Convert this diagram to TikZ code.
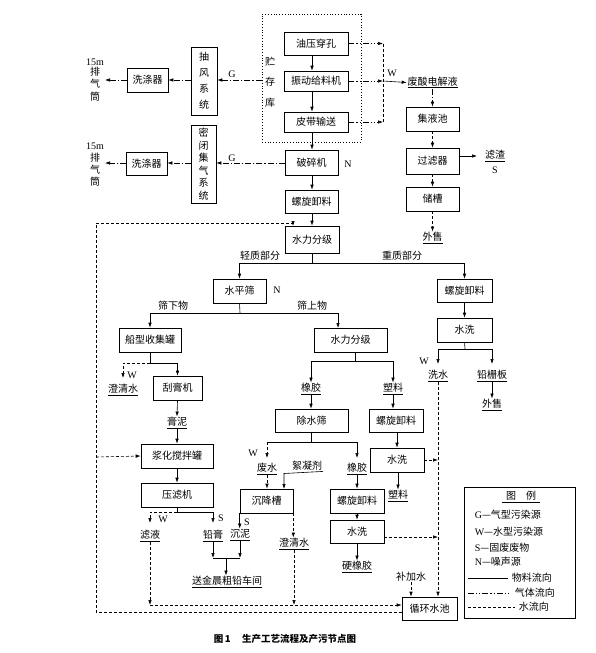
\documentclass[tikz,border=0pt]{standalone}
\usepackage{fontspec}
\setmainfont{Noto Sans CJK SC}
\newfontfamily\lat{Liberation Serif}
\usetikzlibrary{arrows.meta}
\newcommand\udl[1]{\underline{#1}}
\newcommand\bx[6]{\node[box,minimum width={(#4)-(#2)},minimum height={(#5)-(#3)}] (#1) at ({((#2)+(#4))/2},{((#3)+(#5))/2}) {#6};}
\begin{document}
\begin{tikzpicture}[x=1pt,y=-1pt, font=\fontsize{10}{12}\selectfont, line width=0.6pt,
 box/.style={draw, inner sep=0pt, align=center},
 arr/.style={-{Latex[length=5pt,width=3.5pt]}},
 gas/.style={dash pattern=on 6pt off 2pt on 1.2pt off 2pt},
 gasb/.style={dash pattern=on 6pt off 2pt on 1.2pt off 2pt on 1.2pt off 2pt},
 water/.style={dash pattern=on 3pt off 2pt},
 txt/.style={inner sep=0.5pt},
 lbl/.style={inner sep=0pt, font=\lat\fontsize{10}{12}\selectfont}]
\useasboundingbox (0,0) rectangle (596,653);
\coordinate (cx) at (312,0);
\coordinate (wx) at (383,0);
% ---- storage block
\node[draw,dotted,line width=0.8pt,minimum width=99,minimum height=128,inner sep=0] (kuf) at (311.5,78) {};
\node[font=\fontsize{10}{20.5}\selectfont, align=center, inner sep=0] (ku) at (270,82) {贮\\存\\库};
\bx{yy}{284}{32}{348}{55}{油压穿孔}
\bx{zd}{284}{71}{348}{91}{振动给料机}
\bx{pd}{284}{112}{348}{132}{皮带输送}
\bx{pc}{285}{150}{338}{175}{破碎机}
\bx{lx1}{285}{190}{338}{213}{螺旋卸料}
\bx{sl1}{285}{226}{339}{253}{水力分级}
\draw[arr] (yy.south -| cx) -- (zd.north -| cx);
\draw[arr] (zd.south -| cx) -- (pd.north -| cx);
\draw[arr] (pd.south -| cx) -- (pc.north -| cx);
\draw[arr] (pc.south -| cx) -- (lx1.north -| cx);
\draw[arr] (lx1.south -| cx) -- (sl1.north -| cx);
\node[lbl] (n1) at (348,164) {N};
% ---- gas side
\node[box,minimum width=26,minimum height=68,font=\fontsize{10}{16}\selectfont] (cf) at (204,81) {抽\\风\\系\\统};
\node[box,minimum width=25,minimum height=78,font=\fontsize{10}{12.5}\selectfont] (mb) at (203.5,164) {密\\闭\\集\\气\\系\\统};
\bx{xd1}{127}{68}{168}{92}{洗涤器}
\bx{xd2}{126}{152}{167}{175}{洗涤器}
\node[lbl] (m1) at (95,62) {15m};
\node[txt] (p1) at (95,72) {排};
\node[txt] (q1) at (95,84) {气};
\node[txt] (t1) at (95,97) {筒};
\node[lbl] (m2) at (95,146) {15m};
\node[txt] (p2) at (95,158) {排};
\node[txt] (q2) at (95,170) {气};
\node[txt] (t2) at (95,182) {筒};
\coordinate (e1) at (105,80);
\coordinate (e2) at (105,163);
\node[lbl] (g1) at (232,74) {G};
\node[lbl] (g2) at (232,158) {G};
\draw[gas,arr] (kuf.west |- 0,80) -- (cf.east |- 0,80);
\draw[gas,arr] (cf.west |- 0,80) -- (xd1.east);
\draw[gas,arr] (xd1.west) -- (e1);
\draw[gas,arr] (pc.west |- 0,163) -- (mb.east |- 0,163);
\draw[gas,arr] (mb.west |- 0,163) -- (xd2.east |- 0,163);
\draw[gas,arr] (xd2.west |- 0,163) -- (e2);
% ---- waste acid
\node[lbl] (w1) at (392,73) {W};
\node[txt] (fsd) at (432.5,82.5) {\udl{废酸电解液}};
\bx{jyc}{406}{107}{459}{131}{集液池}
\bx{glq}{406}{148}{459}{174}{过滤器}
\bx{cc}{406}{187}{459}{211}{储槽}
\node[txt] (ws1) at (432.5,238) {\udl{外售}};
\node[txt] (lz) at (495,156) {\udl{滤渣}};
\node[lbl] (s0) at (495,170) {S};
\draw[gasb,arr] (yy.east) -- (yy.east -| wx);
\draw[gasb,arr] (zd.east) -- (zd.east -| wx);
\draw[gasb,arr] (pd.east) -- (pd.east -| wx);
\draw[water] (yy.east -| wx) -- (pd.east -| wx);
\draw[arr] (zd.east -| wx) -- (fsd.west);
\draw[gas,arr] (fsd.south -| jyc.north) -- (jyc.north);
\draw[water,arr] (jyc.south) -- (glq.north);
\draw[water,arr] (glq.south) -- (cc.north);
\draw[water,arr] (cc.south) -- (ws1.north);
\draw[arr] (glq.east |- 0,156) -- (477,156);
% ---- hydraulic split
\node[txt] (qz) at (260,256) {轻质部分};
\node[txt] (zz) at (402,256) {重质部分};
\coordinate (j1) at (312,263);
\bx{spj}{213}{279}{266}{303}{水平筛}
\node[lbl] (n2) at (277,290) {N};
\bx{lx4}{437}{279}{492}{302}{螺旋卸料}
\draw (sl1.south -| cx) -- (j1);
\draw[arr] (j1) -| (spj.north);
\draw[arr] (j1) -| (lx4.north);
\node[txt] (sxw) at (173,306) {筛下物};
\node[txt] (ssw) at (312,306) {筛上物};
\bx{cx1}{119}{328}{181}{352}{船型收集罐}
\bx{sl2}{314}{328}{387}{352}{水力分级}
\coordinate (j2) at (240,313);
\draw (spj.south) -- (j2);
\draw[arr] (j2) -| (cx1.north);
\draw[arr] (j2) -| (338,328);
% ---- left branch
\bx{ggj}{153}{376}{202}{400}{刮膏机}
\node[lbl] (w3) at (132,375) {W};
\node[txt] (cqs1) at (123,390) {\udl{澄清水}};
\coordinate (j3) at (150,363);
\draw (cx1.south) -- (j3);
\draw[water,arr] (j3) -| (123,378);
\draw[arr] (j3) -| (ggj.north);
\node[txt] (gn) at (177,423) {\udl{膏泥}};
\bx{jh}{141}{444}{213}{468}{浆化搅拌罐}
\bx{ylj}{141}{483}{213}{507}{压滤机}
\draw[arr] (ggj.south) -- (gn.north);
\draw[arr] (gn.south) -- (jh.north);
\draw[arr] (jh.south) -- (ylj.north);
\coordinate (j4) at (177,512);
\draw (ylj.south) -- (j4);
\draw[water,arr] (j4) -| (150,523);
\draw[arr] (j4) -| (213,523);
\node[lbl] (w6) at (163,519) {W};
\node[lbl] (s1) at (221,518) {S};
\node[txt] (ly) at (150,536) {\udl{滤液}};
\node[txt] (qg) at (213,536) {\udl{铅膏}};
% ---- middle branch
\node[txt] (xj1) at (311,389) {\udl{橡胶}};
\node[txt] (sl) at (393,389) {\udl{塑料}};
\coordinate (j5) at (355,361);
\draw (sl2.south -| j5) -- (j5);
\draw[arr] (j5) -| (xj1.north);
\draw[arr] (j5) -| (sl.north);
\bx{csz}{275}{409}{348}{432}{除水筛}
\bx{lx2}{369}{409}{423}{432}{螺旋卸料}
\draw[arr] (xj1.south) -- (csz.north -| xj1);
\draw[arr] (sl.south) -- (lx2.north -| sl);
\coordinate (j6) at (311.5,442);
\draw (csz.south) -- (j6);
\draw (j6) -- (267,442);
\draw[water,arr] (267,442) -- (267,458);
\draw[arr] (j6) -| (357,458);
\node[lbl] (w4) at (253,453) {W};
\node[txt] (fs) at (267,469) {\udl{废水}};
\node[txt] (xnj) at (307,466) {絮凝剂};
\node[txt] (xj2) at (357,469) {\udl{橡胶}};
\bx{cjc}{240}{489}{293}{513}{沉降槽}
\bx{lx3}{330}{489}{384}{513}{螺旋卸料}
\bx{sx2}{330}{520}{384}{543}{水洗}
\bx{sx1}{370}{448}{424}{472}{水洗}
\draw[water,arr] (fs.south) -- (cjc.north -| fs);
\draw[arr] (xnj.south east) -- (284,473.5) -- (284,489);
\draw[arr] (xj2.south) -- (lx3.north -| xj2);
\draw[arr] (lx3.south -| xj2) -- (sx2.north -| xj2);
\node[txt] (yxj) at (357,567) {\udl{硬橡胶}};
\draw[arr] (sx2.south -| xj2) -- (yxj.north);
\draw[arr] (lx2.south -| sx1.north) -- (sx1.north);
\node[txt] (sl3) at (398,496) {\udl{塑料}};
\draw[arr] (sx1.south -| sl3) -- (sl3.north);
% settling tank outputs
\node[lbl] (s2) at (247,522) {S};
\node[txt] (cn) at (240,535) {\udl{沉泥}};
\node[txt] (cqs2) at (294,544) {\udl{澄清水}};
\draw[arr] (cjc.south west) -- (cn.north -| cjc.south west);
\draw[water,arr] (cjc.south east) -- (cqs2.north -| cjc.south east);
\coordinate (j7) at (226,558);
\draw[arr] (qg.south) -- (qg.south |- j7);
\draw[arr] (cn.south) -- (cn.south |- j7);
\draw (qg.south |- j7) -- (cn.south |- j7);
\node[txt] (sjc) at (227,582) {\udl{送金晨粗铅车间}};
\draw[arr] (j7) -- (sjc.north -| j7);
% ---- right branch
\bx{sx3}{437}{318}{492}{342}{水洗}
\draw[arr] (lx4.south) -- (sx3.north);
\coordinate (j8) at (465,349);
\draw (sx3.south) -- (j8);
\draw[arr] (j8) -| (438,364);
\draw[arr] (j8) -| (492,364);
\node[lbl] (w5) at (424,361) {W};
\node[txt] (xs) at (438,376) {\udl{洗水}};
\node[txt] (qzb) at (492,376) {\udl{铅栅板}};
\node[txt] (ws2) at (492,405) {\udl{外售}};
\draw[arr] (qzb.south) -- (ws2.north);
% ---- water loop
\bx{xhsc}{402}{597}{457}{620}{循环水池}
\node[txt] (bjs) at (411,577) {补加水};
\draw[water,arr] (bjs.south) -- (bjs.south |- xhsc.north);
\draw[water,arr] (xs.south) -- (xs.south |- xhsc.north);
\draw[water,arr] (sx1.east) -- (sx1.east -| xs);
\draw[water,arr] (sx2.east |- 0,537) -- (xs |- 0,537);
\coordinate (j9) at (150,605);
\draw[water,arr] (ly.south) -- (j9);
\draw[water,arr] (cqs2.south) -- (cqs2.south |- j9);
\draw[water,arr] (j9) -- (xhsc.west |- j9);
\coordinate (lp) at (96,457);
\draw[water,arr] (xhsc.west |- 0,612) -- (96,612) -- (96,223) -- (293,223) -- (293,226);
\draw[water,arr] (lp) -- (jh.west);
% ---- legend
\node[draw,minimum width=111,minimum height=131,inner sep=0] (lg) at (519.5,552.5) {};
\node[txt] (lgt) at (521,497) {\udl{\hspace{4pt}图\hspace{10pt}例\hspace{4pt}}};
\node[txt,anchor=west] (lg1) at (474,515) {{\lat G}—气型污染源};
\node[txt,anchor=west] (lg2) at (474,532) {{\lat W}—水型污染源};
\node[txt,anchor=west] (lg3) at (474,548) {{\lat S}—固废废物};
\node[txt,anchor=west] (lg4) at (474,562) {{\lat N}—噪声源};
\node[txt,anchor=west] (lg5) at (511,578) {物料流向};
\node[txt,anchor=west] (lg6) at (514,593) {气体流向};
\node[txt,anchor=west] (lg7) at (518,607) {水流向};
\draw (468,578) -- ([xshift=-3pt]lg5.west);
\draw[gasb] (468,593) -- ([xshift=-3pt]lg6.west);
\draw[water] (468,607) -- ([xshift=-3pt]lg7.west);
% ---- caption
\node[font=\bfseries\fontsize{9.5}{11}\selectfont, inner sep=0] (cap) at (285,639) {图\,1\hspace{1.2em}生产工艺流程及产污节点图};
\end{tikzpicture}
\end{document}
